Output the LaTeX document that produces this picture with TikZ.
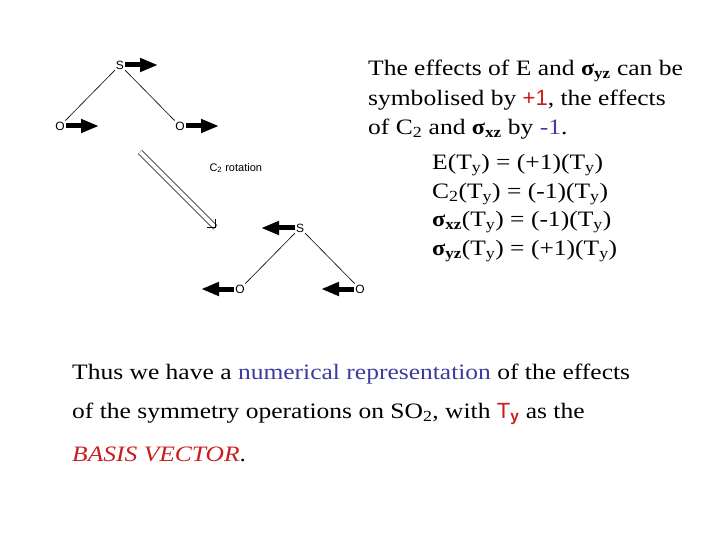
\documentclass[tikz,border=0pt]{standalone}
\usepackage{fontspec}
\setmainfont{Liberation Serif}[FakeStretch=1.16]
\newfontfamily\boldw{Liberation Serif Bold}[FakeStretch=1.1]
\newfontfamily\arialf{Liberation Sans}
\usetikzlibrary{arrows.meta}
\definecolor{myred}{RGB}{200,30,30}
\definecolor{myblue}{RGB}{60,60,160}
\tikzset{
 atom/.style={font=\arialf\fontsize{12}{12}\selectfont, inner sep=1pt},
 bond/.style={line width=0.6pt},
 vec/.style={line width=5pt,-{Triangle[length=18pt,width=13pt]}},
 txt/.style={anchor=west, font=\fontsize{22}{22}\selectfont, inner sep=0pt, yshift=-3pt}
}
\newcommand{\sg}[1]{{\boldw σ\textsubscript{#1}}}
\begin{document}
\begin{tikzpicture}[x=1pt,y=-1pt]
\useasboundingbox (0,0) rectangle (720,540);
% top molecule
\node[atom] (S1) at (120,65) {S};
\node[atom] (O1) at (60,126) {O};
\node[atom] (O2) at (180,126) {O};
\draw[bond] (S1) -- (O1); \draw[bond] (S1) -- (O2);
\coordinate (a1) at (158,65); \coordinate (a2) at (99,126); \coordinate (a3) at (219,126);
\draw[vec] (S1.east) -- (a1);
\draw[vec] (O1.east) -- (a2);
\draw[vec] (O2.east) -- (a3);
% rotation arrow
\coordinate (r1) at (140,152); \coordinate (r2) at (216,228);
\draw[double, double distance=4pt, line width=0.7pt, -{Straight Barb[length=6pt,width=12pt]}] (r1) -- (r2);
\node[font=\arialf\fontsize{11}{11}\selectfont, anchor=west] (c2) at (206,168) {C\textsubscript{2} rotation};
% bottom molecule
\node[atom] (S2) at (300,228) {S};
\node[atom] (O3) at (240,289) {O};
\node[atom] (O4) at (360,289) {O};
\draw[bond] (S2) -- (O3); \draw[bond] (S2) -- (O4);
\coordinate (b1) at (261,228); \coordinate (b2) at (201,289); \coordinate (b3) at (321,289);
\draw[vec] (S2.west) -- (b1);
\draw[vec] (O3.west) -- (b2);
\draw[vec] (O4.west) -- (b3);
% text
\node[txt] (t1) at (368,68) {The effects of E and \sg{yz} can be};
\node[txt] (t2) at (368,97) {symbolised by \textcolor{myred}{\arialf +1}, the effects};
\node[txt] (t3) at (368,126) {of C\textsubscript{2} and \sg{xz} by \textcolor{myblue}{-1}.};
\node[txt] (e1) at (432,162) {E(T\textsubscript{y}) = (+1)(T\textsubscript{y})};
\node[txt] (e2) at (432,191) {C\textsubscript{2}(T\textsubscript{y}) = (-1)(T\textsubscript{y})};
\node[txt] (e3) at (432,219) {\sg{xz}(T\textsubscript{y}) = (-1)(T\textsubscript{y})};
\node[txt] (e4) at (432,248) {\sg{yz}(T\textsubscript{y}) = (+1)(T\textsubscript{y})};
\node[txt] (b1t) at (72,371) {Thus we have a \textcolor{myblue}{numerical representation} of the effects};
\node[txt] (b2t) at (72,411) {of the symmetry operations on SO\textsubscript{2}, with \textcolor{myred}{\arialf T\textsubscript{\textbf{y}}} as the};
\node[txt] (b3t) at (72,451) {\textcolor{myred}{\textit{BASIS VECTOR}}.};
\end{tikzpicture}
\end{document}
